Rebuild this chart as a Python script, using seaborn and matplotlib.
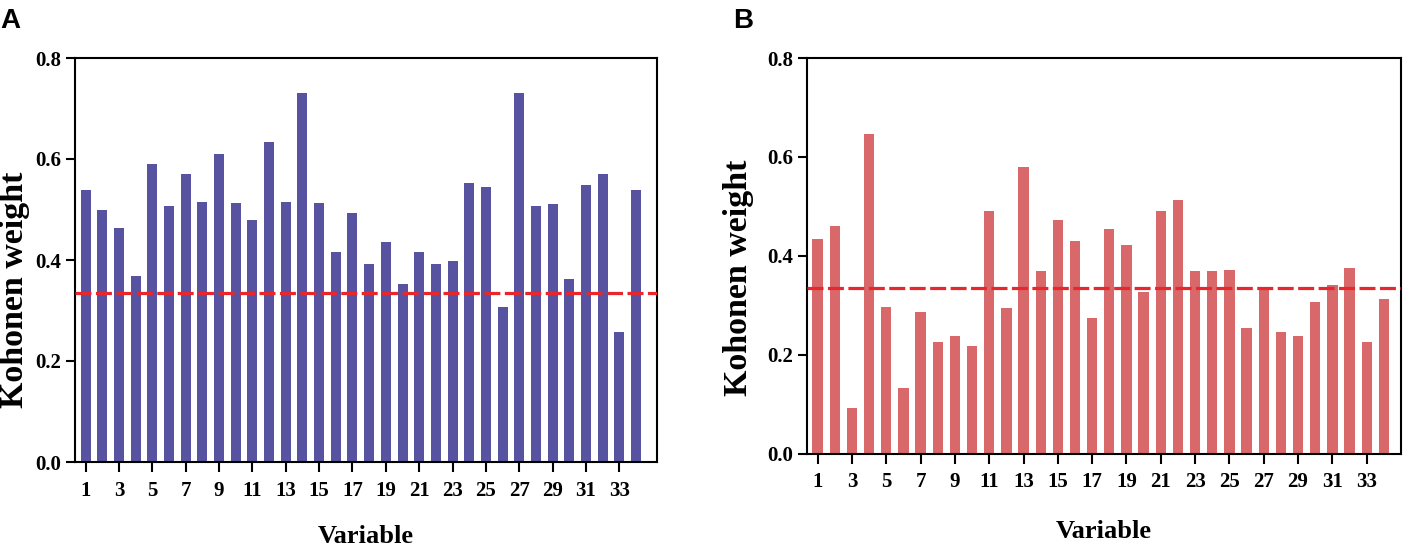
import matplotlib
matplotlib.use("Agg")
import matplotlib.pyplot as plt
import seaborn as sns
import pandas as pd

variables = list(range(1, 35))
weights_a = [0.538, 0.500, 0.464, 0.369, 0.591, 0.507, 0.571, 0.514, 0.609, 0.513,
             0.480, 0.634, 0.514, 0.731, 0.512, 0.416, 0.494, 0.393, 0.436, 0.353,
             0.415, 0.393, 0.399, 0.553, 0.545, 0.307, 0.730, 0.507, 0.511, 0.363,
             0.548, 0.570, 0.257, 0.538]
weights_b = [0.433, 0.460, 0.092, 0.646, 0.296, 0.132, 0.287, 0.226, 0.238, 0.218,
             0.491, 0.294, 0.580, 0.370, 0.472, 0.429, 0.274, 0.454, 0.422, 0.326,
             0.491, 0.512, 0.370, 0.370, 0.372, 0.254, 0.330, 0.245, 0.238, 0.306,
             0.341, 0.376, 0.226, 0.312]
threshold_a = 0.334
threshold_b = 0.335
yticks = [0.0, 0.2, 0.4, 0.6, 0.8]
xtick_labels = [str(v) for v in variables if v % 2 == 1]

sns.set_theme(style="white")
plt.rcParams["font.family"] = ["Liberation Serif", "DejaVu Serif"]
plt.rcParams["text.color"] = "black"
plt.rcParams["axes.labelcolor"] = "black"
plt.rcParams["xtick.color"] = "black"
plt.rcParams["ytick.color"] = "black"

fig = plt.figure(figsize=(14.03, 5.5), dpi=100)
W, H = 1403, 550

def make_axes(l, r, t, b):
    return fig.add_axes([l / W, 1 - b / H, (r - l) / W, (b - t) / H])

ax_a = make_axes(75, 657, 58, 462)
ax_b = make_axes(807, 1401, 58, 453.5)

df_a = pd.DataFrame({"Variable": variables, "Weight": weights_a})
df_b = pd.DataFrame({"Variable": variables, "Weight": weights_b})

panels = [
    (ax_a, df_a, "#5753a1", threshold_a, (-0.64, 34.26), (-0.1048, 0.4257), -0.1856),
    (ax_b, df_b, "#d9686a", threshold_b, (-0.62, 34.0), (-0.116, 0.4437), -0.1975),
]

for ax, df, color, thr, xlim, ylab_pos, xlab_y in panels:
    sns.barplot(data=df, x="Variable", y="Weight", ax=ax, color=color,
                width=0.6, saturation=1, edgecolor="none", linewidth=0)
    ax.axhline(thr, color="#e8262c", lw=2.3, ls=(0, (5, 1.4)), zorder=5)
    ax.set_xlim(*xlim)
    ax.set_ylim(0, 0.8)
    ax.set_yticks(yticks)
    ax.set_yticklabels([f"{v:.1f}" for v in yticks])
    ax.set_xticks(range(0, 34, 2))
    ax.set_xticklabels(xtick_labels)
    for s in ax.spines.values():
        s.set_visible(True)
        s.set_color("black")
        s.set_linewidth(1.5)
    ax.tick_params(axis="both", which="major", direction="out", color="black",
                   labelsize=15, width=1.5)
    ax.tick_params(axis="x", length=7.5, pad=6, bottom=True)
    ax.tick_params(axis="y", length=6.5, pad=3.5, left=True)
    for lbl in ax.get_xticklabels() + ax.get_yticklabels():
        lbl.set_fontweight("bold")
    ax.set_xlabel("Variable", fontsize=19, fontweight="bold")
    ax.set_ylabel("Kohonen weight", fontsize=24.5, fontweight="bold")
    ax.yaxis.set_label_coords(*ylab_pos)
    ax.yaxis.label.set_va("center")
    ax.xaxis.set_label_coords(0.5, xlab_y)
    ax.xaxis.label.set_va("center")
    ax.grid(False)

fig.text(0 / W, 1 - 8 / H, "A", fontsize=20, fontweight="bold",
         family=["Liberation Sans", "DejaVu Sans"], ha="left", va="top")
fig.text(733 / W, 1 - 8 / H, "B", fontsize=20, fontweight="bold",
         family=["Liberation Sans", "DejaVu Sans"], ha="left", va="top")

fig.savefig("out.png", dpi=100, facecolor="white")
